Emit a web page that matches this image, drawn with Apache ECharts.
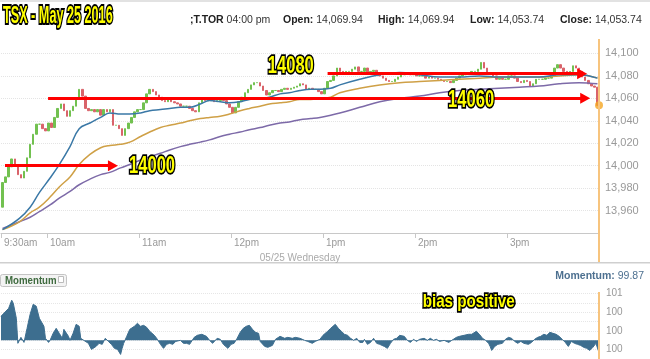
<!DOCTYPE html>
<html><head><meta charset="utf-8">
<script src="https://cdn.jsdelivr.net/npm/echarts@6/dist/echarts.min.js"></script>
<style>html,body{margin:0;padding:0;background:#fff}#c{width:650px;height:359px}</style>
</head><body><div id="c"></div>
<script>
// ---- data ----
const firstOpen = 13963;
// 2-minute closes, 9:30 -> 16:00
const closes = [13985,13990,13999,14006,14001,13992,13989,13995,14007,14019,
 14028,14037,14037,14033,14031,14038,14034,14043,14051,14055,
 14049,14044,14049,14053,14060,14068,14062,14051,14049,14050,
 14048,14050,14045,14050,14048,14050,14036,14036,14033,14027,
 14033,14038,14043,14048,14050,14050,14056,14064,14068,14066,
 14063,14061,14058,14057,14059,14057,14056,14055,14053,14053,
 14053,14051,14049,14048,14056,14060,14058,14058,14058,14057,
 14058,14060,14058,14055,14052,14047,14052,14057,14061,14065,
 14068,14072,14074,14074,14071,14067,14063,14065,14067,14067,
 14066,14068,14069,14068,14069,14070,14071,14073,14072,14068,
 14069,14068,14068,14066,14064,14069,14075,14076,14080,14087,
 14084,14083,14084,14084,14086,14088,14084,14084,14087,14083,
 14084,14085,14083,14080,14078,14076,14075,14075,14077,14079,
 14081,14083,14083,14081,14083,14080,14080,14080,14078,14079,
 14078,14078,14077,14076,14075,14075,14074,14076,14078,14080,
 14081,14082,14083,14084,14084,14086,14092,14087,14083,14083,
 14080,14077,14078,14077,14077,14080,14080,14078,14075,14074,
 14076,14075,14071,14073,14077,14077,14077,14078,14078,14080,
 14087,14090,14087,14084,14083,14084,14089,14087,14084,14079,
 14076,14073,14071,14069.94,14053.74];
// moving averages (minutes after 9:30)
const maTimes = [1,12,19,25,32,38,45,51,58,65,71,78,84,91,97,104,110,117,123,130,136,143,149,156,162,169,175,182,188,195,202,208,215,221,234,247,260,273,286,299,312,325,338,351,364,377,389];
const maBlue = [13943,13953,13963,13976,13989,14001,14017,14033,14038,14043,14047,14046,14046,14047,14049,14050,14051,14052,14052,14055,14058,14057,14056,14057,14059,14060,14061,14064,14065,14067,14068,14068,14069,14072,14077,14081,14083,14081,14079,14079,14080,14079,14079,14079,14081,14081,14078];
const maGold = [13943,13950,13958,13963,13972,13981,13990,14001,14010,14016,14018,14019,14021,14026,14030,14034,14036,14038,14040,14042,14043,14044,14046,14049,14051,14053,14055,14056,14057,14059,14059,14060,14061,14065,14069,14072,14074,14075,14076,14077,14078,14079,14079,14079,14080,14081,14078];
const maPurple = [13944,13950,13954,13959,13965,13971,13977,13983,13988,13992,13994,13998,14001,14005,14008,14011,14014,14017,14019,14021,14023,14026,14028,14030,14032,14034,14036,14038,14039,14041,14042,14043,14045,14047,14052,14057,14060,14062,14065,14067,14068,14069,14070,14071,14073,14074,14073];
// momentum [minute, value]
const momentum = [[0,100.258],[5,100.344],[7,100.43],[8,100.398],[10,100.237],[11,99.968],[13,100.032],[15,99.978],[17,100.129],[19,100.28],[21,100.387],[23,100.366],[25,100.237],[28,100.151],[29,100.022],[31,99.978],[32,100],[34,100.075],[36,100.129],[38,100.075],[40,100.022],[41,100.118],[42,100.129],[44,100.043],[45,100],[47,100.075],[49,100.172],[51,100.151],[52,100.022],[54,100],[57,99.968],[59,99.903],[60,99.882],[62,99.935],[64,99.968],[66,99.957],[68,100.022],[70,99.989],[72,99.957],[74,99.914],[76,99.903],[78,99.849],[79,99.914],[80,99.968],[82,100.043],[84,100.118],[87,100.151],[89,100.183],[91,100.151],[93,100.161],[95,100.14],[97,100.097],[100,100.054],[102,100.011],[104,99.957],[106,99.914],[108,99.957],[110,99.968],[112,99.957],[114,99.989],[117,100],[119,99.968],[121,99.968],[123,99.957],[126,100.032],[128,100.054],[131,100.065],[134,100.043],[136,100],[138,99.968],[141,100.022],[143,100.011],[145,99.957],[148,99.914],[150,99.957],[152,99.968],[154,100.022],[156,100.086],[158,100.129],[160,100.151],[162,100.161],[164,100.118],[166,100.086],[168,100.075],[169,99.989],[172,99.935],[174,99.925],[177,99.946],[179,100.011],[182,100.043],[185,100.022],[187,100.032],[190,100.022],[192,100.032],[195,100.022],[198,100],[200,99.989],[203,99.968],[205,99.989],[208,100.011],[210,100.054],[213,100.097],[215,100.129],[218,100.172],[220,100.129],[222,100.097],[224,100.065],[226,100.054],[228,100.022],[230,100],[232,100.022],[234,99.978],[236,99.978],[237,100.011],[239,99.957],[241,99.978],[243,100.022],[245,99.968],[247,99.957],[250,99.935],[252,99.914],[254,99.968],[256,100.011],[258,100.022],[260,100.054],[263,100.043],[265,100],[267,99.978],[269,100.011],[271,99.989],[273,100.011],[276,100.022],[278,100],[280,100.022],[282,100],[284,100.011],[286,99.989],[289,100],[292,99.978],[294,100],[297,100.032],[299,100.043],[302,100.054],[305,100.065],[307,100.065],[310,100.097],[312,100.065],[314,100.022],[316,100],[318,99.968],[319,99.935],[320,99.892],[322,99.935],[324,99.957],[327,99.968],[329,100.011],[331,100.032],[333,100.022],[335,99.989],[337,99.968],[339,99.989],[341,99.968],[342,99.978],[344,99.957],[346,99.978],[348,100.011],[350,100.032],[352,100.043],[354,100.065],[356,100.054],[358,100.086],[360,100.075],[362,100.065],[364,100.043],[366,100.011],[368,99.978],[370,99.935],[372,99.989],[374,99.968],[376,99.957],[378,99.946],[380,99.925],[382,99.914],[384,99.892],[386,99.925],[388,99.968],[390,99.87]];
const xTickMinutes = [0,30,90,150,210,270,330];
const xTickLabels = ['9:30am','10am','11am','12pm','1pm','2pm','3pm'];
const dateLabel = '05/25 Wednesday';
const headerLabels = ['Open','High','Low','Close'];
const headerValues = [14069.94,14069.94,14053.74,14053.74];
// annotation arrows: [level, from minute, to minute]
const arrowLevels = [14000, 14060, 14082];
const arrowFrom = [2.6, 30.7, 213];
const arrowTo = [73, 381, 379];
const noteTexts = ['14000','14060','14080'];
const noteAt = [[98.5,13999],[306.6,14057.5],[189,14088]];
const momNote = 'bias positive';
const momNoteAt = [305, 100.41];

// ---- build ----
const comma = s => s.replace(/\B(?=(\d{3})+(?!\d))/g, ',');
const candles = closes.map((c,i)=>{const o = i ? closes[i-1] : firstOpen; return [o, c, Math.min(o,c), Math.max(o,c)];});
const maSeries = (vals, color) => ({type:'line', xAxisIndex:1, yAxisIndex:0, data: maTimes.map((t,i)=>[t, vals[i]]), smooth:0.4, symbol:'none', z:3, lineStyle:{width:1.5, color}});
const SANS = '"Liberation Sans",Arial,sans-serif';

const chart = echarts.init(document.getElementById('c'));
const option = {
  animation:false,
  grid:[{left:1, width:598, top:40, height:193},{left:1, width:598, top:290, height:69}],
  xAxis:[
    {type:'category', gridIndex:0, data:closes.map((_,i)=>i), show:false, boundaryGap:true},
    {type:'value', gridIndex:0, min:0, max:390, position:'bottom',
      axisLine:{show:true, lineStyle:{color:'#c8c8c8', width:1}},
      axisTick:{show:true, customValues:xTickMinutes, length:5, lineStyle:{color:'#c8c8c8'}},
      axisLabel:{customValues:xTickMinutes, formatter:v=>{const i=xTickMinutes.indexOf(v); return i<0?'':xTickLabels[i];}, align:'left', padding:[0,0,0,3], margin:5, color:'#999', fontSize:10, fontFamily:SANS},
      splitLine:{show:false},
      name:dateLabel, nameLocation:'middle', nameGap:17, nameTextStyle:{color:'#aaa', fontSize:10, fontFamily:SANS}},
    {type:'value', gridIndex:1, min:0, max:390, show:false}
  ],
  yAxis:[
    {type:'value', gridIndex:0, position:'right', min:13940, max:14112, interval:20,
      axisLine:{show:false}, axisTick:{show:false},
      axisLabel:{color:'#999', fontSize:11, margin:6, showMinLabel:false, showMaxLabel:false, fontFamily:SANS, formatter:v=>comma(String(v))},
      splitLine:{lineStyle:{color:'#e4e4e4', type:'dotted'}, showMinLine:false, showMaxLine:false}},
    {type:'value', gridIndex:1, position:'right', min:99.8, max:100.54, interval:0.1,
      axisLine:{show:false}, axisTick:{show:false},
      axisLabel:{color:'#999', fontSize:10, margin:7, showMinLabel:false, showMaxLabel:false, fontFamily:SANS, formatter:v=>{const r=Math.round(v*10); return (r%2===1)?String(Math.round(v)):'';}},
      splitLine:{lineStyle:{color:'#e6e6e6', type:'dotted'}, showMinLine:false, showMaxLine:false}}
  ],
  series:[
    {type:'candlestick', xAxisIndex:0, yAxisIndex:0, data:candles, barWidth:2, z:2,
      itemStyle:{color:'#72c150', color0:'#d9636a', borderColor:'#72c150', borderColor0:'#d9636a', borderWidth:1}},
    maSeries(maPurple, '#7d6aa8'),
    maSeries(maGold, '#cfa046'),
    maSeries(maBlue, '#3a78a6'),
    {type:'line', xAxisIndex:1, yAxisIndex:0, data:[], z:6,
      markLine:{silent:true, symbol:['none','triangle'], symbolSize:[11,10], animation:false,
        lineStyle:{color:'#ff0000', width:3, type:'solid'}, label:{show:false},
        data: arrowLevels.map((lv,i)=>[{coord:[arrowFrom[i], lv]},{coord:[arrowTo[i], lv]}])}},
    {type:'scatter', xAxisIndex:1, yAxisIndex:0, data:[[390, closes[closes.length-1]]], symbolSize:8, clip:false, z:8, itemStyle:{color:'#f5a623'}},
    {type:'line', xAxisIndex:2, yAxisIndex:1, data:momentum, symbol:'none', z:2,
      lineStyle:{width:1, color:'#3d6e8f'}, areaStyle:{color:'#3d6e8f', opacity:1, origin:100}}
  ]
};
chart.setOption(option);

const xe = chart.convertToPixel({xAxisIndex:1}, 390);
const yellowText = (text, pt, size, sx) => ({type:'text', x:pt[0], y:pt[1], scaleX:sx, z:60,
  style:{text, fontSize:size, fontWeight:'bold', fontFamily:SANS, fill:'#ffff00', stroke:'#000', lineWidth:3.5, align:'center', verticalAlign:'middle'}});
const notePx = noteAt.map(c => chart.convertToPixel({xAxisIndex:1, yAxisIndex:0}, c));
const momPx = chart.convertToPixel({xAxisIndex:2, yAxisIndex:1}, momNoteAt);
const hdrFont = {fontSize:10.5, fontFamily:SANS, fill:'#333', verticalAlign:'middle'};
const hdrBold = {b:{fontWeight:'bold', fontSize:10.5, fontFamily:SANS, fill:'#222'}};
const hdrX = [283, 378, 470, 560];
const graphic = [
  {type:'rect', shape:{x:0,y:0,width:650,height:2}, style:{fill:'#e2e2e2'}, silent:true},
  {type:'text', x:3, y:17, scaleX:0.55, z:60, style:{text:'TSX - May 25 2016', fontSize:23, fontWeight:'bold', fontFamily:SANS, fill:'#ffff00', stroke:'#000', lineWidth:4, verticalAlign:'middle'}},
  {type:'text', x:190, y:20, style:Object.assign({text:'{b|;T.TOR} 04:00 pm', rich:hdrBold}, hdrFont)},
  ...headerLabels.map((l,i)=>({type:'text', x:hdrX[i], y:20, style:Object.assign({text:'{b|'+l+':} '+comma(headerValues[i].toFixed(2)), rich:hdrBold}, hdrFont)})),
  ...noteTexts.map((t,i)=>yellowText(t, notePx[i], 23, 0.72)),
  yellowText(momNote, momPx, 19, 0.8),
  {type:'rect', shape:{x:xe-1, y:39, width:2, height:223}, style:{fill:'#f7c47e'}, z:50},
  {type:'rect', shape:{x:xe-1, y:292, width:2, height:67}, style:{fill:'#f7c47e'}, z:50},
  {type:'rect', shape:{x:0, y:262, width:650, height:1.5}, style:{fill:'#cfcfcf'}},
  {type:'rect', shape:{x:0.5, y:274.5, width:66, height:12, r:2}, style:{fill:'#f3f3f3', stroke:'#c4c4c4', lineWidth:1}},
  {type:'text', x:5, y:281, scaleX:0.88, style:{text:'Momentum', fontSize:11, fontWeight:'bold', fontFamily:SANS, fill:'#3f6b3f', verticalAlign:'middle'}},
  {type:'rect', shape:{x:58.5, y:276.5, width:5, height:6}, style:{fill:'#fff', stroke:'#bbb', lineWidth:1}},
  {type:'text', x:644, y:276, style:{text:'{b|Momentum:} '+momentum[momentum.length-1][1].toFixed(2), align:'right', verticalAlign:'middle', fontSize:10.5, fontFamily:SANS, fill:'#4d7090', rich:{b:{fontWeight:'bold', fontSize:10.5, fontFamily:SANS, fill:'#4d7090'}}}}
];
chart.setOption({graphic});
</script></body></html>
